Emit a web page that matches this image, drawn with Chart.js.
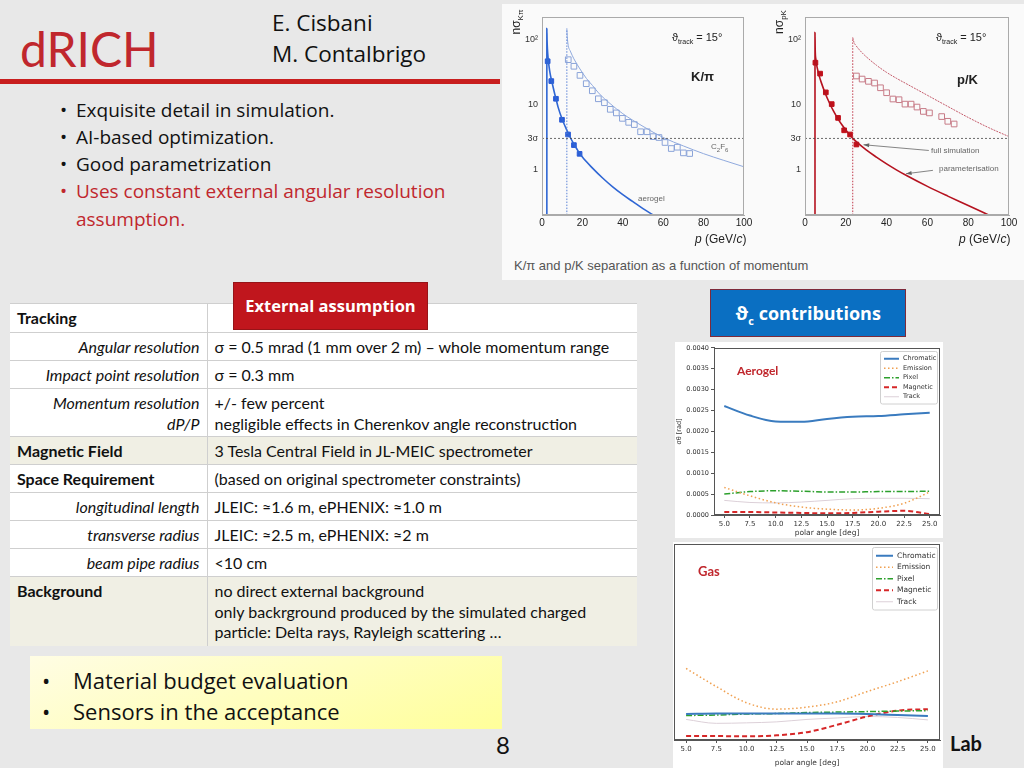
<!DOCTYPE html>
<html>
<head>
<meta charset="utf-8">
<title>dRICH</title>
<script src="https://cdn.jsdelivr.net/npm/chart.js@4.4.1/dist/chart.umd.min.js"></script>
<style>
  body { margin: 0; }
  #slide { position: relative; width: 1024px; height: 768px; background: #e8e8e8; overflow: hidden; font-family: Lato, "Open Sans", sans-serif; }
  .a { position: absolute; white-space: nowrap; }
  .os { font-family: "Open Sans", Lato, sans-serif; }
  canvas { position: absolute; }
  .red { color: #c0272d; }
  #figbox { position: absolute; left: 502px; top: 4px; width: 522px; height: 276px; background: #fafafa; }
  .root { font-family: "Liberation Sans", Arial, sans-serif; color: #222; }
  .tiny { font-family: "Liberation Sans", Arial, sans-serif; font-size: 8px; color: #666; }
  table { position: absolute; left: 10px; top: 303px; width: 627px; border-collapse: collapse; background: #fff; font-size: 16px; color: #111; table-layout: fixed; }
  td { border-top: 1px solid #cfcfcf; padding: 4px 7px 0 7px; vertical-align: top; line-height: 20.5px; white-space: nowrap; }
  td.k { border-right: 1px solid #cfcfcf; }
  td.h { font-weight: bold; text-align: left; }
  td.s { font-style: italic; text-align: right; }
  tr.b td { background: #f0efe4; }
  .box { position: absolute; color: #fff; font-weight: bold; text-align: center; font-family: "Open Sans", Lato, sans-serif; }
</style>
</head>
<body>
<div id="slide">
  <div class="a red" style="left:20px;top:20px;font-size:48px;">dRICH</div>
  <div class="a os" style="left:272px;top:7px;font-size:22.5px;color:#111;">E. Cisbani</div>
  <div class="a os" style="left:272px;top:38px;font-size:22.5px;color:#111;">M. Contalbrigo</div>
  <div class="a" style="left:0;top:79px;width:500px;height:5px;background:#c81e1e;"></div>

  <div class="a os" style="left:60px;top:97px;font-size:19px;color:#111;">•</div>
  <div class="a os" style="left:76px;top:97px;font-size:19px;color:#111;">Exquisite detail in simulation.</div>
  <div class="a os" style="left:60px;top:124px;font-size:19px;color:#111;">•</div>
  <div class="a os" style="left:76px;top:124px;font-size:19px;color:#111;">AI-based optimization.</div>
  <div class="a os" style="left:60px;top:151px;font-size:19px;color:#111;">•</div>
  <div class="a os" style="left:76px;top:151px;font-size:19px;color:#111;">Good parametrization</div>
  <div class="a os red" style="left:60px;top:178px;font-size:19px;">•</div>
  <div class="a os red" style="left:76px;top:178px;font-size:19px;">Uses constant external angular resolution</div>
  <div class="a os red" style="left:76px;top:206px;font-size:19px;">assumption.</div>

  <div id="figbox"></div>
  <canvas id="kpi" width="260" height="231" style="left:502px;top:4px;"></canvas>
  <canvas id="pk" width="259" height="231" style="left:765px;top:4px;"></canvas>
  <div class="a root" style="left:496px;top:15px;width:40px;height:14px;font-size:12px;text-align:center;transform:rotate(-90deg);">nσ<sub style="font-size:8px;">Kπ</sub></div>
  <div class="a root" style="left:759px;top:15px;width:40px;height:14px;font-size:12px;text-align:center;transform:rotate(-90deg);">nσ<sub style="font-size:8px;">pK</sub></div>
  <div class="a root" style="left:672px;top:31px;font-size:11px;">ϑ<sub style="font-size:7px;">track</sub> = 15°</div>
  <div class="a root" style="left:936px;top:31px;font-size:11px;">ϑ<sub style="font-size:7px;">track</sub> = 15°</div>
  <div class="a root" style="left:691px;top:69px;font-size:13px;font-weight:bold;">K/π</div>
  <div class="a root" style="left:957px;top:72px;font-size:13px;font-weight:bold;">p/K</div>
  <div class="a tiny" style="left:711px;top:142px;">C<sub style="font-size:6px;">2</sub>F<sub style="font-size:6px;">6</sub></div>
  <div class="a tiny" style="left:638px;top:194px;">aerogel</div>
  <div class="a tiny" style="left:931px;top:146px;">full simulation</div>
  <div class="a tiny" style="left:939px;top:164px;">parameterisation</div>
  <div class="a root" style="left:695px;top:232px;font-size:12px;"><i>p</i> (GeV/<i>c</i>)</div>
  <div class="a root" style="left:959px;top:232px;font-size:12px;"><i>p</i> (GeV/<i>c</i>)</div>
  <div class="a root" style="left:514px;top:258px;font-size:13px;color:#555;">K/π and p/K separation as a function of momentum</div>

  <table>
    <colgroup><col style="width:197px"><col></colgroup>
    <tr style="height:29px"><td class="k h">Tracking</td><td></td></tr>
    <tr style="height:28px"><td class="k s">Angular resolution</td><td>σ = 0.5 mrad (1 mm over 2 m) – whole momentum range</td></tr>
    <tr style="height:28px"><td class="k s">Impact point resolution</td><td>σ = 0.3 mm</td></tr>
    <tr style="height:48px"><td class="k s">Momentum resolution<br>dP/P</td><td>+/- few percent<br>negligible effects in Cherenkov angle reconstruction</td></tr>
    <tr class="b" style="height:28px"><td class="k h">Magnetic Field</td><td>3 Tesla Central Field in JL-MEIC spectrometer</td></tr>
    <tr style="height:28px"><td class="k h">Space Requirement</td><td>(based on original spectrometer constraints)</td></tr>
    <tr style="height:28px"><td class="k s">longitudinal length</td><td>JLEIC: ≈1.6 m, ePHENIX: ≈1.0 m</td></tr>
    <tr style="height:28px"><td class="k s">transverse radius</td><td>JLEIC: ≈2.5 m, ePHENIX: ≈2 m</td></tr>
    <tr style="height:28px"><td class="k s">beam pipe radius</td><td>&lt;10 cm</td></tr>
    <tr class="b" style="height:69px"><td class="k h">Background</td><td>no direct external background<br>only backrground produced by the simulated charged<br>particle: Delta rays, Rayleigh scattering …</td></tr>
  </table>
  <div class="box" style="left:233px;top:282px;width:193px;height:46px;background:#c0161d;border:1px solid #961418;font-size:16.5px;line-height:46px;">External assumption</div>
  <div class="box" style="left:710px;top:289px;width:194px;height:46px;background:#0a6fc2;border:1px solid #7d2a3a;font-size:18px;line-height:46px;">ϑ<sub style="font-size:11px;line-height:0;">c</sub> contributions</div>

  <div class="a" style="left:675px;top:342px;width:268px;height:196px;background:#fff;"></div>
  <div class="a" style="left:673px;top:542px;width:270px;height:226px;background:#fff;"></div>
  <canvas id="aero" width="268" height="196" style="left:675px;top:342px;"></canvas>
  <canvas id="gas" width="270" height="226" style="left:673px;top:542px;"></canvas>
  <div class="a" style="left:737px;top:363px;font-size:12px;font-weight:bold;color:#c0272d;">Aerogel</div>
  <div class="a" style="left:698px;top:563px;font-size:13px;font-weight:bold;color:#c0272d;">Gas</div>

  <div class="a" style="left:30px;top:656px;width:472px;height:73px;background:linear-gradient(160deg,#fffde4,#ffff9a);"></div>
  <div class="a os" style="left:42px;top:665px;font-size:22px;color:#111;">•</div>
  <div class="a os" style="left:73px;top:665px;font-size:22px;color:#111;">Material budget evaluation</div>
  <div class="a os" style="left:42px;top:696px;font-size:22px;color:#111;">•</div>
  <div class="a os" style="left:73px;top:696px;font-size:22px;color:#111;">Sensors in the acceptance</div>
  <div class="a" style="left:496px;top:730px;font-size:24px;color:#111;">8</div>
  <div class="a" style="left:950px;top:731px;font-size:20px;font-weight:bold;color:#111;">Lab</div>
</div>

<script>
// momentum axis and n-sigma axis ticks
const pTicks = [0, 20, 40, 60, 80, 100];
const nsigmaTicks = [1, 3, 10, 100];
const nsigmaLabels = { 1: '1', 3: '3σ', 10: '10', 100: '10²' };
const threeSigma = 3;

// K/pi: parameterisation curves (aerogel and C2F6 gas)
const kpiAeroP = [2.4, 2.4, 2.5, 2.7, 3, 3.5, 4, 5, 6, 7, 8, 10, 12, 14, 16, 18, 20, 25, 30, 35, 40, 45, 50, 55];
const kpiAeroN = [0.2, 146, 100, 70, 52, 38, 30, 21.5, 15.8, 11.9, 9.0, 5.9, 4.2, 3.1, 2.4, 1.9, 1.55, 1.05, 0.74, 0.54, 0.41, 0.32, 0.25, 0.2];
const kpiGasThrP = [12.3, 12.3];
const kpiGasThrN = [0.2, 146];
const kpiGasP = [12.3, 12.5, 13, 14, 15.8, 18.8, 22, 25, 28, 33.7, 40, 50, 60, 70, 80, 90, 100];
const kpiGasN = [146, 110, 80, 66, 50, 35, 25, 19.5, 15, 10.3, 7.2, 4.6, 3.1, 2.3, 1.75, 1.38, 1.1];
// K/pi: full simulation points
const kpiAeroSimP = [2.8, 4.6, 6.9, 9.9, 12.9, 15.8, 18.6];
const kpiAeroSimN = [46, 22.8, 12.2, 5.8, 3.45, 2.37, 1.74];
const kpiGasSimP = [13.0, 15.8, 18.8, 21.9, 24.9, 27.9, 30.9, 33.8, 36.8, 39.8, 42.9, 45.7, 48.8, 52.0, 55.0, 57.9, 60.9, 64.0, 67.0, 70.0, 73.1];
const kpiGasSimN = [48.6, 38.5, 27.9, 20.8, 16.2, 12.2, 10.6, 8.4, 7.4, 6.1, 5.3, 4.9, 3.8, 3.8, 3.2, 3.1, 2.6, 2.1, 2.2, 1.8, 1.76];

// p/K: parameterisation curves
const pkAeroP = [4.9, 4.9, 5.0, 5.3, 6, 7, 8, 10, 12, 14, 16, 18, 20, 23.5, 25, 30, 35, 40, 45, 50, 60, 70, 80, 90];
const pkAeroN = [0.2, 127, 70, 50, 36.3, 27.2, 21.6, 14.6, 10.5, 7.85, 6.1, 4.9, 4.05, 3.0, 2.7, 2.0, 1.55, 1.22, 0.98, 0.8, 0.55, 0.39, 0.28, 0.2];
const pkGasThrP = [23.4, 23.4];
const pkGasThrN = [0.2, 106];
const pkGasP = [23.4, 24, 25, 28, 30, 35, 40, 45, 50, 60, 70, 80, 90, 100];
const pkGasN = [106, 90, 80, 62, 54, 40, 31, 25, 20.5, 13.8, 9.3, 6.3, 4.4, 3.2];
// p/K: full simulation points
const pkAeroSimP = [5.1, 7.4, 10.2, 13.1, 16.2, 19.2, 22.1, 25.2];
const pkAeroSimN = [43.7, 29.7, 15.3, 10.1, 6.2, 4.0, 3.45, 2.42];
const pkGasSimP = [25.2, 28.0, 31.1, 34.1, 37.0, 40.0, 43.1, 46.1, 49.0, 52.0, 54.9, 58.0, 61.0, 67.0, 70.0, 73.1];
const pkGasSimN = [27.3, 24.5, 22.6, 21.3, 18.0, 15.1, 12.1, 11.8, 10.1, 10.1, 9.1, 7.8, 7.4, 6.5, 5.5, 5.0];

// theta_c contributions vs polar angle
const angleTicks = [5, 7.5, 10, 12.5, 15, 17.5, 20, 22.5, 25];
const sigmaTicks = [0, 0.0005, 0.001, 0.0015, 0.002, 0.0025, 0.003, 0.0035, 0.004];
const polarAngle = [5, 7.5, 10, 12.5, 15, 17.5, 20, 22.5, 25];
const contribNames = ['Chromatic', 'Emission', 'Pixel', 'Magnetic', 'Track'];
const aeroChromatic = [0.00261, 0.00238, 0.00224, 0.00223, 0.0023, 0.00235, 0.00237, 0.00241, 0.00245];
const aeroEmission = [0.00066, 0.00046, 0.00029, 0.00019, 0.00014, 0.00012, 0.00016, 0.00028, 0.00055];
const aeroPixel = [0.0005, 0.00056, 0.00058, 0.00057, 0.00055, 0.00055, 0.00056, 0.00056, 0.00057];
const aeroMagnetic = [0.00007, 0.00007, 0.00006, 0.00005, 0.00004, 0.00005, 0.00008, 0.0001, 0.00002];
const aeroTrack = [0.00035, 0.0003, 0.00029, 0.00031, 0.00035, 0.00039, 0.0004, 0.0004, 0.00039];
const gasChromatic = [0.000053, 0.000054, 0.000054, 0.000054, 0.000054, 0.000054, 0.000053, 0.000051, 0.000049];
const gasEmission = [0.000146, 0.000109, 0.000076, 0.000063, 0.000067, 0.000078, 0.000099, 0.000119, 0.000141];
const gasPixel = [0.00005, 0.000051, 0.000053, 0.000054, 0.000056, 0.000057, 0.000058, 0.000059, 0.00006];
const gasMagnetic = [0.000008, 0.000008, 0.0000075, 0.0000095, 0.000016, 0.000031, 0.000048, 0.00006, 0.000063];
const gasTrack = [0.000042, 0.000034, 0.000035, 0.000037, 0.000042, 0.000045, 0.000048, 0.000046, 0.000041];

Chart.defaults.animation = false;
Chart.defaults.responsive = false;
Chart.defaults.plugins.legend.display = false;
Chart.defaults.plugins.tooltip.enabled = false;

const xy = (xs, ys) => xs.map((x, i) => ({ x: x, y: ys[i] }));

// box around the plot area
const framePlugin = {
  id: 'frame',
  afterDatasetsDraw(chart, args, opts) {
    const { ctx, chartArea: a } = chart;
    ctx.save();
    ctx.strokeStyle = opts.color;
    ctx.lineWidth = 1;
    ctx.strokeRect(Math.round(a.left) + 0.5, Math.round(a.top) + 0.5, Math.round(a.right - a.left) - 1, Math.round(a.bottom - a.top) - 1);
    ctx.restore();
  }
};

// little arrows pointing at the curves (data coordinates)
const arrowPlugin = {
  id: 'arrows',
  afterDatasetsDraw(chart, args, opts) {
    if (!opts.list) return;
    const { ctx, scales } = chart;
    ctx.save();
    ctx.strokeStyle = '#666';
    ctx.fillStyle = '#666';
    ctx.lineWidth = 0.8;
    opts.list.forEach(ar => {
      const x1 = scales.x.getPixelForValue(ar.from[0]), y1 = scales.y.getPixelForValue(ar.from[1]);
      const x2 = scales.x.getPixelForValue(ar.to[0]), y2 = scales.y.getPixelForValue(ar.to[1]);
      ctx.beginPath(); ctx.moveTo(x1, y1); ctx.lineTo(x2, y2); ctx.stroke();
      const ang = Math.atan2(y2 - y1, x2 - x1);
      ctx.beginPath();
      ctx.moveTo(x2, y2);
      ctx.lineTo(x2 - 6 * Math.cos(ang - 0.35), y2 - 6 * Math.sin(ang - 0.35));
      ctx.lineTo(x2 - 6 * Math.cos(ang + 0.35), y2 - 6 * Math.sin(ang + 0.35));
      ctx.closePath(); ctx.fill();
    });
    ctx.restore();
  }
};

// matplotlib-like legend in the upper right corner of the plot area
const boxLegend = {
  id: 'boxLegend',
  afterDatasetsDraw(chart, args, o) {
    const { ctx, chartArea: a } = chart;
    const sets = chart.data.datasets;
    ctx.save();
    ctx.font = o.size + 'px "DejaVu Sans"';
    const h = sets.length * o.row + 5;
    const x = Math.round(a.right - o.width - 3), y = Math.round(a.top + 3);
    ctx.fillStyle = 'rgba(255,255,255,0.9)';
    ctx.strokeStyle = '#d0d0d0';
    ctx.lineWidth = 1;
    ctx.beginPath(); ctx.roundRect(x + 0.5, y + 0.5, o.width, h, 2); ctx.fill(); ctx.stroke();
    sets.forEach((d, i) => {
      const yy = y + 3 + o.row * (i + 0.5);
      ctx.strokeStyle = d.borderColor;
      ctx.lineWidth = d.borderWidth;
      ctx.setLineDash(d.borderDash || []);
      ctx.beginPath(); ctx.moveTo(x + 4, yy); ctx.lineTo(x + 4 + o.sample, yy); ctx.stroke();
      ctx.setLineDash([]);
      ctx.fillStyle = '#333';
      ctx.textBaseline = 'middle';
      ctx.fillText(d.label, x + 8 + o.sample, yy);
    });
    ctx.restore();
  }
};

function curve(pts, color, width, dash) {
  return { data: pts, showLine: true, borderColor: color, borderWidth: width, borderDash: dash || [], pointRadius: 0, cubicInterpolationMode: 'monotone' };
}
function squares(pts, color, filled) {
  return { data: pts, showLine: false, pointStyle: 'rect', pointRadius: filled ? 3.3 : 4,
    backgroundColor: filled ? color : 'rgba(0,0,0,0)', borderColor: color, borderWidth: 1 };
}

function separationChart(id, datasets, padRight, arrows) {
  new Chart(document.getElementById(id), {
    type: 'scatter',
    data: { datasets: datasets },
    options: {
      devicePixelRatio: 1,
      layout: { padding: { top: 13, right: padRight, left: 0, bottom: 0 } },
      scales: {
        x: {
          type: 'linear', min: 0, max: 100,
          afterBuildTicks: s => { s.ticks = pTicks.map(v => ({ value: v })); },
          afterFit: s => { s.height = 20; },
          grid: { display: false, drawTicks: false, tickLength: 0 },
          border: { color: '#aaa' },
          ticks: { font: { family: 'Liberation Sans', size: 10 }, color: '#222', padding: 2, maxRotation: 0 }
        },
        y: {
          type: 'logarithmic', min: 0.2, max: 220,
          afterBuildTicks: s => { s.ticks = nsigmaTicks.map(v => ({ value: v })); },
          afterFit: s => { s.width = 40; },
          grid: { display: false, drawTicks: false, tickLength: 0 },
          border: { color: '#aaa' },
          ticks: { callback: v => nsigmaLabels[v], font: { family: 'Liberation Sans', size: 9 }, color: '#333', padding: 4 }
        }
      },
      plugins: { frame: { color: '#aaa' }, arrows: { list: arrows } }
    },
    plugins: [framePlugin, arrowPlugin]
  });
}

const sigmaLine = xy([0, 100], [threeSigma, threeSigma]);

separationChart('kpi', [
  curve(sigmaLine, '#444', 0.8, [2, 2]),
  curve(xy(kpiGasThrP, kpiGasThrN), '#5b82d6', 1, [1.5, 1.5]),
  curve(xy(kpiGasP, kpiGasN), '#8fa9dd', 1),
  curve(xy(kpiAeroP, kpiAeroN), '#2f66d4', 1.6),
  squares(xy(kpiGasSimP, kpiGasSimN), '#8aa3d8', false),
  squares(xy(kpiAeroSimP, kpiAeroSimN), '#2a5bd7', true)
], 18, null);

separationChart('pk', [
  curve(sigmaLine, '#444', 0.8, [2, 2]),
  curve(xy(pkGasThrP, pkGasThrN), '#c0394b', 1, [1.5, 1.5]),
  curve(xy(pkGasP, pkGasN), '#c45a6a', 1, [2, 1]),
  curve(xy(pkAeroP, pkAeroN), '#b5121f', 1.6),
  squares(xy(pkGasSimP, pkGasSimN), '#c77b87', false),
  squares(xy(pkAeroSimP, pkAeroSimN), '#c0101a', true)
], 15, [
  { from: [60.7, 1.96], to: [28.7, 2.4] },
  { from: [62.7, 0.97], to: [49.5, 0.86] }
]);

const contribStyles = [
  { color: '#3a7bbf', width: 2, dash: [] },
  { color: '#f0a050', width: 1.5, dash: [1.5, 2.5] },
  { color: '#2ca02c', width: 1.5, dash: [6, 2, 1.5, 2] },
  { color: '#d62728', width: 2, dash: [5, 3] },
  { color: '#dcd0d8', width: 1, dash: [] }
];

function contribChart(id, series, yMin, yMax, showY, xHeight, pad, legend) {
  new Chart(document.getElementById(id), {
    type: 'line',
    data: {
      datasets: series.map((s, i) => ({
        label: contribNames[i], data: xy(polarAngle, s),
        borderColor: contribStyles[i].color, borderWidth: contribStyles[i].width, borderDash: contribStyles[i].dash,
        pointRadius: 0, cubicInterpolationMode: 'monotone', fill: false
      }))
    },
    options: {
      devicePixelRatio: 1,
      layout: { padding: pad },
      scales: {
        x: {
          type: 'linear', min: 4, max: 26,
          afterBuildTicks: s => { s.ticks = angleTicks.map(v => ({ value: v })); },
          afterFit: s => { s.height = xHeight; },
          grid: { drawOnChartArea: false, tickLength: 3, color: '#555' },
          border: { color: '#555' },
          ticks: { callback: v => v.toFixed(1), font: { family: 'DejaVu Sans', size: 7 }, color: '#333', padding: 2, maxRotation: 0 },
          title: { display: true, text: 'polar angle [deg]', font: { family: 'DejaVu Sans', size: 7.5 }, color: '#333', padding: 0 }
        },
        y: {
          type: 'linear', min: yMin, max: yMax,
          afterBuildTicks: s => { s.ticks = showY ? sigmaTicks.map(v => ({ value: v })) : []; },
          afterFit: s => { s.width = showY ? 39 : 1; },
          grid: { drawOnChartArea: false, drawTicks: showY, tickLength: 3, color: '#555' },
          border: { color: '#555' },
          ticks: { display: showY, callback: v => v.toFixed(4), font: { family: 'DejaVu Sans', size: 6.5 }, color: '#333', padding: 2 },
          title: { display: showY, text: 'σθ [rad]', font: { family: 'DejaVu Sans', size: 6.5 }, color: '#333', padding: 0 }
        }
      },
      plugins: { frame: { color: '#555' }, boxLegend: legend }
    },
    plugins: [framePlugin, boxLegend]
  });
}

contribChart('aero', [aeroChromatic, aeroEmission, aeroPixel, aeroMagnetic, aeroTrack], 0, 0.004, true, 23,
  { top: 5, right: 3, left: 0, bottom: 0 }, { width: 57, row: 9.5, size: 6.5, sample: 15 });
contribChart('gas', [gasChromatic, gasEmission, gasPixel, gasMagnetic, gasTrack], 0, 0.0004, false, 28,
  { top: 2, right: 3, left: 0, bottom: 0 }, { width: 65, row: 11.5, size: 7.5, sample: 17 });
</script>
</body>
</html>
